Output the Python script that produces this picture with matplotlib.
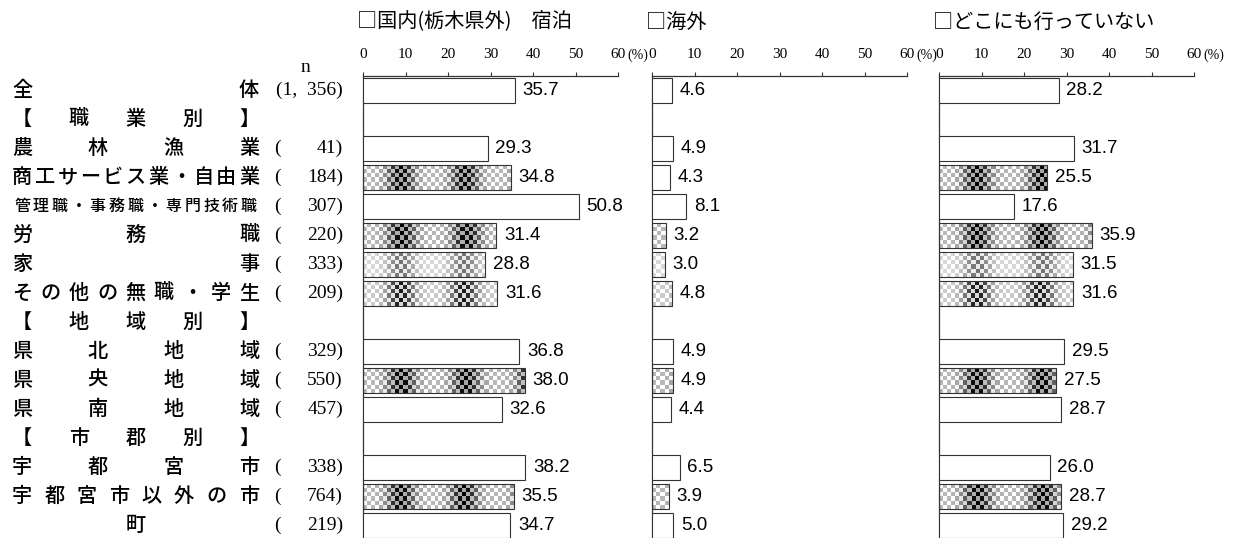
import numpy as np
import matplotlib
matplotlib.use('Agg')
import matplotlib.pyplot as plt
from matplotlib import transforms
from matplotlib import font_manager

W, H = 1234, 538

def pick_font(names):
    for nm in names:
        try:
            font_manager.findfont(nm, fallback_to_default=False)
            return nm
        except ValueError:
            pass
    return 'DejaVu Sans'

JP = 'Noto Sans CJK JP'
SERIF = pick_font(['Liberation Serif', 'DejaVu Serif'])
NUM = pick_font(['Liberation Sans Narrow', 'Liberation Sans'])

# データ
row_labels = ['全体', '【職業別】', '農林漁業', '商工サービス業・自由業', '管理職・事務職・専門技術職',
              '労務職', '家事', 'その他の無職・学生', '【地域別】', '県北地域', '県央地域', '県南地域',
              '【市郡別】', '宇都宮市', '宇都宮市以外の市', '町']
n_counts = ['1, 356', None, '41', '184', '307', '220', '333', '209', None,
            '329', '550', '457', None, '338', '764', '219']
domestic = [35.7, None, 29.3, 34.8, 50.8, 31.4, 28.8, 31.6, None, 36.8, 38.0, 32.6, None, 38.2, 35.5, 34.7]
overseas = [4.6, None, 4.9, 4.3, 8.1, 3.2, 3.0, 4.8, None, 4.9, 4.9, 4.4, None, 6.5, 3.9, 5.0]
nowhere = [28.2, None, 31.7, 25.5, 17.6, 35.9, 31.5, 31.6, None, 29.5, 27.5, 28.7, None, 26.0, 28.7, 29.2]
panel_titles = ['□国内(栃木県外)　宿泊', '□海外', '□どこにも行っていない']
ticks = [0, 10, 20, 30, 40, 50, 60]

# 塗りの種類（模様）
domestic_fill = [None, None, None, 'dark', None, 'dark', 'light', 'mid', None, None, 'dark', None, None, None, 'dark', None]
overseas_fill = [None, None, None, None, None, 'dark', 'light', 'mid', None, None, 'dark', None, None, None, 'dark', None]
nowhere_fill = list(domestic_fill)


def texture(ncols, kind):
    j = np.arange(ncols)
    i = np.arange(6)[:, None]
    env = (0.5 + 0.5 * np.cos(2 * np.pi * (j - 9) / 16)) ** 2
    checker = (i + j) % 2
    if kind == 'dark':
        dark = 0.72 - 0.72 * env
        light = 1.0 - 0.35 * env
    elif kind == 'mid':
        dark = 0.8 - 0.7 * env
        light = 1.0 - 0.15 * env
    else:
        dark = 0.85 - 0.4 * env
        light = 1.0 - 0.08 * env
    return np.where(checker == 1, dark, light)


fig = plt.figure(figsize=(W / 100, H / 100), dpi=100)

ax_top = 76
ax_h = H - ax_top
lefts = [363, 652, 939]
width_px = 255
axes = [fig.add_axes([l / W, 0, width_px / W, ax_h / H]) for l in lefts]

bar_h = 0.83
edge = '#333333'

for ax, vals, fills, title, lx in zip(axes, [domestic, overseas, nowhere],
                                      [domestic_fill, overseas_fill, nowhere_fill],
                                      panel_titles, lefts):
    idx = [k for k, v in enumerate(vals) if v is not None]
    v = [vals[k] for k in idx]
    bars = ax.barh(idx, v, height=bar_h, color='white', edgecolor=edge, linewidth=0.8, zorder=3)
    px_per_unit = width_px / 60
    for b, k in zip(bars, idx):
        if fills[k] is None:
            continue
        b.set_facecolor('none')
        ncols = max(1, int(round(b.get_width() * px_per_unit / 4)))
        im = ax.imshow(texture(ncols, fills[k]), cmap='gray', vmin=0, vmax=1,
                       extent=(b.get_x(), b.get_x() + b.get_width(),
                               b.get_y() + b.get_height(), b.get_y()),
                       aspect='auto', interpolation='nearest', zorder=2)
        im.set_clip_path(b)
    for k, val in zip(idx, v):
        ax.annotate(f'{val:.1f}', xy=(val, k), xytext=(5.5, 0), textcoords='offset points',
                    ha='left', va='center', fontsize=13.5, family=NUM, color='black')

    ax.set_xlim(0, 60)
    ax.set_ylim(15.43, -0.5)
    ax.xaxis.tick_top()
    ax.set_xticks(ticks)
    ax.set_xticklabels([str(t) for t in ticks], family=SERIF, fontsize=11)
    ax.tick_params(axis='x', direction='out', length=3, width=0.8, pad=8, color=edge)
    ax.set_yticks([])
    for s in ['right', 'bottom']:
        ax.spines[s].set_visible(False)
    for s in ['top', 'left']:
        ax.spines[s].set_color(edge)
        ax.spines[s].set_linewidth(0.9)
    ax.patch.set_alpha(0)
    ax.annotate('(%)', xy=(60, 1), xycoords=('data', 'axes fraction'), xytext=(7, 15),
                textcoords='offset points', ha='left', va='center', family=SERIF, fontsize=10)
    fig.text((lx - 6) / W, 1 - 22 / H, title, family=JP, fontsize=14.5, ha='left', va='center')

# 左側の項目名（均等割付）
trans = transforms.blended_transform_factory(fig.transFigure, axes[0].transData)
x0, x1 = 22, 249
for k, lab in enumerate(row_labels):
    size = 11.5 if len(lab) > 11 else 14.5
    nch = len(lab)
    for c, ch in enumerate(lab):
        cx = (x0 + x1) / 2 if nch == 1 else x0 + (x1 - x0) * c / (nch - 1)
        fig.text(cx / W, k, ch, transform=trans, family=JP, fontsize=size,
                 weight='medium', ha='center', va='center')
    n = n_counts[k]
    if n is None:
        continue
    if ',' in n:
        fig.text(343 / W, k, '(' + n.replace(' ', '  ') + ')', transform=trans, family=SERIF,
                 fontsize=14, ha='right', va='center')
    else:
        fig.text(277 / W, k, '(', transform=trans, family=SERIF, fontsize=14,
                 ha='center', va='center')
        fig.text(343 / W, k, f'{n})', transform=trans, family=SERIF, fontsize=14,
                 ha='right', va='center')

fig.text(305 / W, 1 - 67 / H, 'n', family=SERIF, fontsize=14, ha='center', va='center')

fig.savefig('out.png', dpi=100, facecolor='white')
